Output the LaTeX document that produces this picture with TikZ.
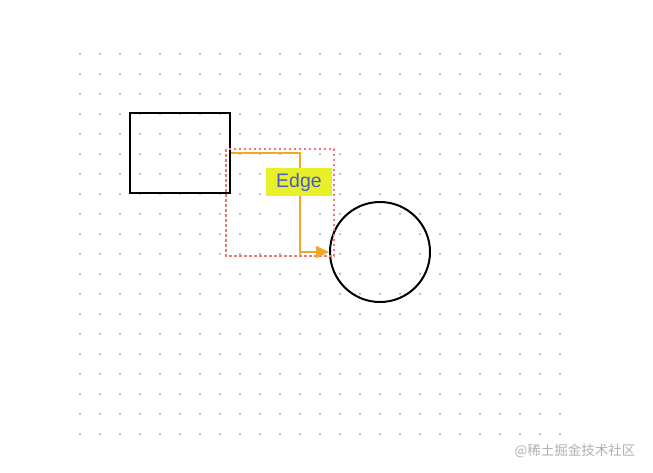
\documentclass[tikz,border=0pt]{standalone}
\usepackage{fontspec}
\setmainfont{Liberation Sans}
\newfontfamily\cjk{Noto Sans CJK SC}
\usetikzlibrary{arrows.meta}
\definecolor{dotgray}{HTML}{A8A8A8}
\definecolor{edgeorange}{HTML}{F5A623}
\definecolor{boxred}{HTML}{E97A7A}
\definecolor{labelyellow}{HTML}{E8F02C}
\definecolor{labelblue}{HTML}{4A5BC4}
\definecolor{markgray}{HTML}{B0B0B0}
\tikzset{
  shapeline/.style={draw=black, line width=2pt},
  edgeline/.style={draw=edgeorange, line width=2pt, -{Triangle[length=13pt,width=12pt]}},
  selbox/.style={draw=boxred, line width=1.5pt, dash pattern=on 2.5pt off 2.5pt},
  edgelabel/.style={fill=labelyellow, text=labelblue, font=\fontsize{19.5}{21}\selectfont,
    inner xsep=10pt, inner ysep=0pt, minimum height=28pt}
}
\begin{document}
\begin{tikzpicture}[x=1pt,y=-1pt]
      \useasboundingbox (0,0) rectangle (653,472);
      \foreach \i in {0,...,24}
        \foreach \j in {0,...,19}
          \fill[dotgray] (80+20*\i,54+20*\j) circle (1.1pt);
      \draw
        (180,152.5) node[shapeline, minimum width=100pt, minimum height=80pt] (src){}
        (380,252) node[shapeline, circle, minimum size=100pt, inner sep=0pt] (dst){};
      \coordinate (bend) at (300,152.5);
      \begin{scope}[selbox]
        \coordinate (boxA) at (226,149);
        \coordinate (boxB) at (334,256);
        \draw (boxA) rectangle (boxB);
      \end{scope}
      \draw[edgeline] (src.east) -- (bend) |- (dst.west);
      \node[edgelabel] (lbl) at (299,182) {Edge};
      \node[text=markgray, font=\cjk\fontsize{13.5}{15}\selectfont, anchor=east] (mark) at (639,451) {@稀土掘金技术社区};
    \end{tikzpicture}
\end{document}
